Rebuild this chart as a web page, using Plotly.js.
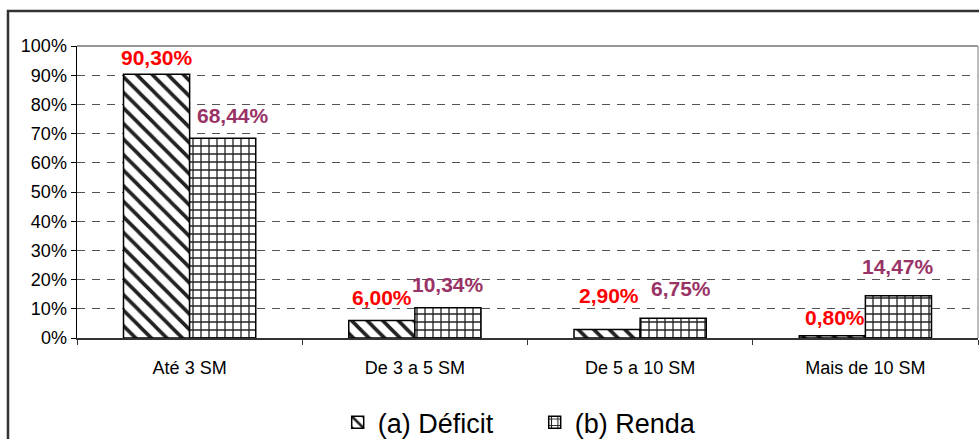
<!DOCTYPE html>
<html>
<head>
<meta charset="utf-8">
<script src="https://cdn.plot.ly/plotly-3.0.1.min.js"></script>
<style>
    html, body { margin: 0; padding: 0; background: #fff; }
    #graph { width: 979px; height: 439px; }
</style>
</head>
<body>
<div id="graph"></div>
<script>
const categories = ['Até 3 SM', 'De 3 a 5 SM', 'De 5 a 10 SM', 'Mais de 10 SM'];
const deficitValues = [0.903, 0.06, 0.029, 0.008];
const rendaValues = [0.6844, 0.1034, 0.0675, 0.1447];
const deficitLabels = ['90,30%', '6,00%', '2,90%', '0,80%'];
const rendaLabels = ['68,44%', '10,34%', '6,75%', '14,47%'];

// pixel offsets of each value label
const deficitShiftX = [0, 0, 2, 3];
const deficitShiftY = [17, 23, 34, 18];
const rendaShiftX = [10, 0, 8, 0];
const rendaShiftY = [23, 23, 30, 29];

const halfBar = 33;
const fontFamily = 'Arial, "Liberation Sans", sans-serif';


function labelAnnotations(values, labels, side, shiftX, shiftY, color) {
    return values.map((value, i) => ({
        x: categories[i],
        y: value,
        xref: 'x',
        yref: 'y',
        text: labels[i],
        showarrow: false,
        xanchor: 'center',
        yanchor: 'middle',
        xshift: side * halfBar + shiftX[i],
        yshift: shiftY[i],
        font: {family: fontFamily, size: 21, color: color, weight: 'bold'}
    }));
}


const deficitTrace = {
    x: categories,
    y: deficitValues,
    type: 'bar',
    name: '(a) Déficit',
    marker: {
        color: 'white',
        line: {color: 'black', width: 1.5},
        pattern: {shape: '\\', fgcolor: '#222', bgcolor: 'white', size: 11, solidity: 0.33}
    },
    hoverinfo: 'skip'
};

const rendaTrace = {
    x: categories,
    y: rendaValues,
    type: 'bar',
    name: '(b) Renda',
    marker: {
        color: 'white',
        line: {color: 'black', width: 1.5},
        pattern: {shape: '+', fgcolor: '#222', bgcolor: 'white', size: 8, solidity: 0.3}
    },
    hoverinfo: 'skip'
};

const layout = {
    width: 979,
    height: 439,
    margin: {l: 77, r: 1, t: 46, b: 101, autoexpand: false},
    paper_bgcolor: 'white',
    plot_bgcolor: 'white',
    barmode: 'group',
    bargap: 0.413,
    bargroupgap: 0,
    font: {family: fontFamily, size: 18, color: '#000'},
    xaxis: {
        type: 'category',
        automargin: false,
        showline: true,
        linecolor: '#333',
        linewidth: 2,
        ticks: 'outside',
        tickson: 'boundaries',
        ticklen: 5,
        tickcolor: '#333',
        tickfont: {family: fontFamily, size: 18, color: '#000'},
        ticklabelstandoff: 12,
        showgrid: false,
        fixedrange: true
    },
    yaxis: {
        range: [0, 1],
        automargin: false,
        dtick: 0.1,
        tickformat: '.0%',
        showline: true,
        linecolor: '#000',
        linewidth: 1.5,
        ticks: 'outside',
        ticklen: 5,
        tickcolor: '#000',
        tickfont: {family: fontFamily, size: 18, color: '#000'},
        showgrid: true,
        gridcolor: '#555',
        gridwidth: 1,
        griddash: '8px,7px',
        zeroline: false,
        fixedrange: true
    },
    shapes: [
        // grey plot-area border (top and right)
        {type: 'line', xref: 'paper', yref: 'paper', x0: 0, x1: 1, y0: 1, y1: 1,
            line: {color: '#999', width: 2}},
        {type: 'line', xref: 'paper', yref: 'paper', x0: 1, x1: 1, y0: 0, y1: 1,
            line: {color: '#aaa', width: 1.5}},
        // outer chart frame
        {type: 'rect', xref: 'paper', yref: 'paper', x0: -0.0766, x1: 1.2, y0: -0.6, y1: 1.12,
            line: {color: '#333', width: 2.5}, fillcolor: 'rgba(0,0,0,0)'}
    ],
    annotations: [
        ...labelAnnotations(deficitValues, deficitLabels, -1, deficitShiftX, deficitShiftY, '#FF0000'),
        ...labelAnnotations(rendaValues, rendaLabels, 1, rendaShiftX, rendaShiftY, '#993366')
    ],
    showlegend: true,
    legend: {
        orientation: 'h',
        x: 0.508,
        xanchor: 'center',
        y: -0.29,
        yanchor: 'middle',
        entrywidth: 152,
        font: {family: fontFamily, size: 27, color: '#000'},
        bgcolor: 'rgba(0,0,0,0)'
    }
};

const config = {displayModeBar: false, staticPlot: true};

Plotly.newPlot('graph', [deficitTrace, rendaTrace], layout, config);
</script>
</body>
</html>
